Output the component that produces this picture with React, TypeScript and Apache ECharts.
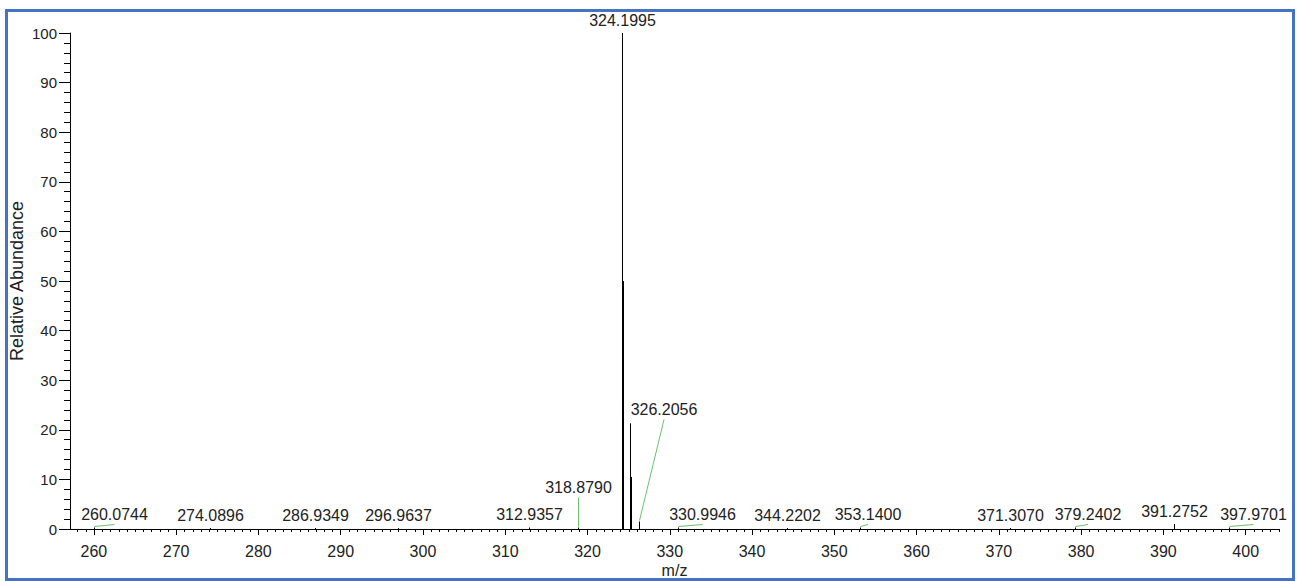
import React, { useEffect, useRef } from "react";
import * as echarts from "echarts";

// ---- data ----
const stickMz = [260.0744, 274.0896, 286.9349, 296.9637, 312.9357, 318.879, 324.1995, 324.32, 325.2, 325.32, 326.2056, 330.9946, 344.2202, 353.14, 371.307, 379.2402, 391.2752, 397.9701];
const stickAbundance = [0.3, 0.2, 0.2, 0.2, 0.3, 0.3, 100, 50, 21.3, 10.5, 1.5, 0.3, 0.2, 0.3, 0.2, 0.3, 1.0, 0.3];

const labelMz = [260.0744, 274.0896, 286.9349, 296.9637, 312.9357, 318.879, 324.1995, 326.2056, 330.9946, 344.2202, 353.14, 371.307, 379.2402, 391.2752, 397.9701];
const labelAbundance = [0.3, 0.2, 0.2, 0.2, 0.3, 0.3, 100, 1.5, 0.3, 0.2, 0.3, 0.2, 0.3, 1.0, 0.3];
const labelText = ["260.0744", "274.0896", "286.9349", "296.9637", "312.9357", "318.8790", "324.1995", "326.2056", "330.9946", "344.2202", "353.1400", "371.3070", "379.2402", "391.2752", "397.9701"];

const xTickLabels = [260, 270, 280, 290, 300, 310, 320, 330, 340, 350, 360, 370, 380, 390, 400];
const xMin = 257.1;
const xMax = 404.05;

// ---- layout (pixel offsets of displaced labels, leader flags) ----
const labelDx = [20, 0, 0, 0, 0, 0, 0, 24.5, 24, 0, 7.5, 0, 12.5, 0, 24];
const labelDy = [0, 0, 0, 0, 0, -27, 0, -99, 0, 0, 0, 0, 0, 0, 0];
const labelLeader = [1, 0, 0, 0, 0, 1, 0, 1, 1, 0, 1, 0, 1, 0, 1];

const FONT = "'Liberation Sans', Arial, sans-serif";

export default function App() {
  const ref = useRef<HTMLDivElement>(null);
  useEffect(() => {
    if (!ref.current) return;
    const chart = echarts.init(ref.current, null, { renderer: "svg" });
    const minorTicks: number[] = [];
    for (let v = Math.ceil(xMin); v <= Math.floor(xMax); v++) {
      if (v % 10 !== 0) minorTicks.push(v);
    }

    const option: any = {
      animation: false,
      backgroundColor: "#ffffff",
      grid: { left: 70, right: 18, top: 33, bottom: 52, containLabel: false, outerBoundsMode: "none" },
      xAxis: {
        type: "value",
        min: xMin,
        max: xMax,
        name: "m/z",
        nameLocation: "middle",
        nameGap: 33,
        nameMoveOverlap: false,
        nameTextStyle: { fontFamily: FONT, fontSize: 16, color: "#222" },
        axisLine: { show: true, onZero: false, lineStyle: { color: "#000", width: 1 } },
        axisTick: { show: true, length: 6, customValues: xTickLabels, lineStyle: { color: "#000" } },
        axisLabel: { customValues: xTickLabels, fontFamily: FONT, fontSize: 16, color: "#222", margin: 14 },
        splitLine: { show: false },
      },
      yAxis: {
        type: "value",
        min: 0,
        max: 100,
        interval: 10,
        name: "Relative Abundance",
        nameLocation: "middle",
        nameGap: 44,
        nameMoveOverlap: false,
        nameTextStyle: { fontFamily: FONT, fontSize: 18, color: "#222" },
        axisLine: { show: true, lineStyle: { color: "#000", width: 1 } },
        axisTick: { show: true, length: 11, lineStyle: { color: "#000" } },
        minorTick: { show: true, splitNumber: 5, length: 6, lineStyle: { color: "#000" } },
        axisLabel: { fontFamily: FONT, fontSize: 15, color: "#222", margin: 13 },
        splitLine: { show: false },
        minorSplitLine: { show: false },
      },
      series: [
        {
          // minor ticks on the m/z axis
          type: "custom",
          clip: false,
          silent: true,
          data: minorTicks.map((v) => [v, 0]),
          renderItem: (params: any, api: any) => {
            const p = api.coord([api.value(0), 0]);
            const px = Math.round(p[0]) + 0.5;
            return {
              type: "line",
              shape: { x1: px, y1: p[1], x2: px, y2: p[1] + 3 },
              style: { stroke: "#000", lineWidth: 1 },
            };
          },
        },
        {
          type: "custom",
          clip: false,
          data: stickMz.map((m, i) => [m, stickAbundance[i]]),
          renderItem: (params: any, api: any) => {
            const x = api.value(0);
            const y = api.value(1);
            const p0 = api.coord([x, 0]);
            const p1 = api.coord([x, y]);
            const px = Math.round(p0[0]) + 0.5;
            return {
              type: "line",
              shape: { x1: px, y1: p0[1], x2: px, y2: p1[1] },
              style: { stroke: "#000", lineWidth: 1 },
            };
          },
        },
        {
          type: "custom",
          clip: false,
          data: labelMz.map((m, i) => [m, labelAbundance[i]]),
          renderItem: (params: any, api: any) => {
            const i = params.dataIndex;
            const x = api.value(0);
            const y = api.value(1);
            const p = api.coord([x, y]);
            const px = Math.round(p[0]) + 0.5;
            const tx = px + labelDx[i];
            const ty = p[1] - 5 + labelDy[i];
            const children: any[] = [
              {
                type: "text",
                style: {
                  text: labelText[i],
                  x: tx,
                  y: ty,
                  align: "center",
                  verticalAlign: "bottom",
                  fontFamily: FONT,
                  fontSize: 16,
                  fill: "#222",
                },
              },
            ];
            if (labelLeader[i]) {
              children.push({
                type: "line",
                shape: { x1: px, y1: p[1] - 1, x2: tx, y2: ty + 2 },
                style: { stroke: "#6cc06c", lineWidth: 1 },
              });
            }
            return { type: "group", children };
          },
        },
      ],
      graphic: [
        {
          type: "rect",
          shape: { x: 6.5, y: 10.5, width: 1287, height: 569 },
          style: { fill: "none", stroke: "#4472C4", lineWidth: 3 },
          z: 100,
        },
      ],
    };
    chart.setOption(option);
    return () => chart.dispose();
  }, []);
  return (
    <div
      ref={ref}
      style={{ position: "fixed", left: 0, top: 0, width: 1297, height: 581, background: "#fff" }}
    />
  );
}
